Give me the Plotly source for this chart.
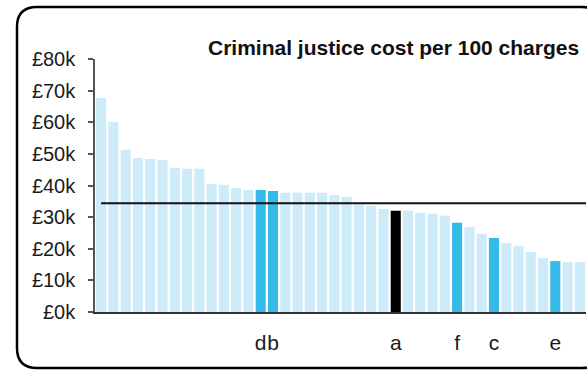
import plotly.graph_objects as go

# ---- data (values in £ thousands) ----
costs = [67.7, 60.1, 51.3, 48.7, 48.4, 48.1, 45.6, 45.3, 45.3, 40.5,
         40.2, 39.2, 38.6, 38.6, 38.3, 37.7, 37.7, 37.7, 37.7, 37.0,
         36.4, 34.0, 33.6, 32.6, 32.0, 32.0, 31.4, 31.1, 30.4, 28.2,
         26.9, 24.7, 23.4, 21.8, 20.9, 19.0, 17.1, 16.1, 15.8, 15.8]
labels = ["", "", "", "", "", "", "", "", "", "",
          "", "", "", "d", "b", "", "", "", "", "",
          "", "", "", "", "a", "", "", "", "", "f",
          "", "", "c", "", "", "", "", "e", "", ""]
average = 34.4
y_ticks = [0, 10, 20, 30, 40, 50, 60, 70, 80]
y_tick_text = ["£0k", "£10k", "£20k", "£30k", "£40k", "£50k", "£60k", "£70k", "£80k"]
title_text = "Criminal justice cost per 100 charges"

positions = list(range(1, len(costs) + 1))
LIGHT = "#cdebf8"
PEER = "#35b9e9"
SELF = "#000000"
colors = [SELF if lb == "a" else (PEER if lb else LIGHT) for lb in labels]

W, H = 587, 374
L, R, T, B = 95, 1, 59, 62
pw, ph = W - L - R, H - T - B

def px(x):
    return (x - L) / pw

def py(y):
    return (H - B - y) / ph

fig = go.Figure()
fig.add_trace(go.Bar(x=positions, y=costs, marker=dict(color=colors, line=dict(width=0)),
                     showlegend=False, hoverinfo="skip"))
fig.add_trace(go.Scatter(x=[1, len(costs) + 1], y=[average, average], mode="lines",
                         line=dict(color="#111111", width=2), showlegend=False,
                         hoverinfo="skip"))

# rounded border box (pixel geometry converted to paper coords)
bl, bt, br, bb, rad = 17, 7, 602, 368, 20
path = (f"M {px(bl+rad)},{py(bt)} L {px(br-rad)},{py(bt)} "
        f"Q {px(br)},{py(bt)} {px(br)},{py(bt+rad)} L {px(br)},{py(bb-rad)} "
        f"Q {px(br)},{py(bb)} {px(br-rad)},{py(bb)} L {px(bl+rad)},{py(bb)} "
        f"Q {px(bl)},{py(bb)} {px(bl)},{py(bb-rad)} L {px(bl)},{py(bt+rad)} "
        f"Q {px(bl)},{py(bt)} {px(bl+rad)},{py(bt)} Z")
fig.add_shape(type="path", path=path, xref="paper", yref="paper",
              line=dict(color="#000000", width=2.5), layer="below")

fig.add_annotation(text=f"<b>{title_text}</b>", xref="paper", yref="paper",
                   x=px(581), y=py(47), xanchor="right", yanchor="middle",
                   showarrow=False, font=dict(size=21, color="#111111"))

fig.update_layout(
    width=W, height=H,
    margin=dict(l=L, r=R, t=T, b=B, autoexpand=False),
    paper_bgcolor="white", plot_bgcolor="white",
    font=dict(family="Liberation Sans, Arial, sans-serif", size=20, color="#1a1a1a"),
    bargap=0.18,
    xaxis=dict(range=[0.5, len(costs) + 0.5], tickmode="array", tickvals=positions,
               ticktext=labels, ticks="", showgrid=False, zeroline=False,
               showline=True, linecolor="#333333", linewidth=1.5, tickangle=0,
               ticklabelstandoff=11, tickfont=dict(size=21)),
    yaxis=dict(range=[0, 80], tickmode="array", tickvals=y_ticks, ticktext=y_tick_text,
               ticks="outside", ticklen=5,
               tickcolor="#555555", tickwidth=1.5, showgrid=False, zeroline=False,
               showline=True, linecolor="#555555", linewidth=1.5,
               ticklabelstandoff=9, tickfont=dict(size=20)),
)

fig.write_html("out.html", config={"displayModeBar": False},
               post_script="document.body.style.margin='0px';")
